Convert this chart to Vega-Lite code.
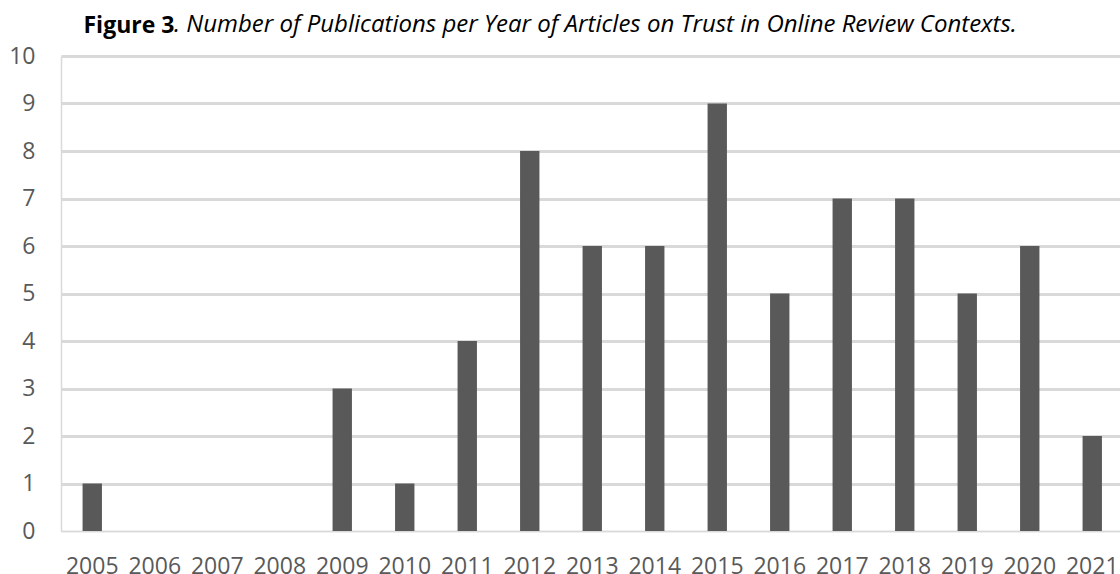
{
  "$schema": "https://vega.github.io/schema/vega-lite/v6.json",
  "width": 1062.5,
  "height": 475,
  "autosize": {"type": "none"},
  "padding": {"left": 61, "top": 56, "right": 0, "bottom": 43},
  "background": "#ffffff",
  "config": {
    "font": "Open Sans",
    "view": {"stroke": null}
  },
  "title": {
    "text": ". Number of Publications per Year of Articles on Trust in Online Review Contexts.",
    "anchor": "start",
    "frame": "group",
    "dx": 113,
    "offset": -42,
    "baseline": "alphabetic",
    "font": "Open Sans",
    "fontSize": 24,
    "fontStyle": "italic",
    "fontWeight": "normal",
    "color": "#000000"
  },
  "data": {
    "values": [
      {"year": "2005", "count": 1},
      {"year": "2006", "count": 0},
      {"year": "2007", "count": 0},
      {"year": "2008", "count": 0},
      {"year": "2009", "count": 3},
      {"year": "2010", "count": 1},
      {"year": "2011", "count": 4},
      {"year": "2012", "count": 8},
      {"year": "2013", "count": 6},
      {"year": "2014", "count": 6},
      {"year": "2015", "count": 9},
      {"year": "2016", "count": 5},
      {"year": "2017", "count": 7},
      {"year": "2018", "count": 7},
      {"year": "2019", "count": 5},
      {"year": "2020", "count": 6},
      {"year": "2021", "count": 2}
    ]
  },
  "mark": {"type": "bar", "color": "#595959"},
  "encoding": {
    "x": {
      "field": "year",
      "type": "ordinal",
      "sort": null,
      "scale": {"paddingInner": 0.69, "paddingOuter": 0.345},
      "axis": {
        "title": null,
        "labelAngle": 0,
        "labelFontSize": 23,
        "labelColor": "#595959",
        "labelFont": "Open Sans",
        "labelBaseline": "alphabetic",
        "labelPadding": 42,
        "ticks": false,
        "domain": true,
        "domainColor": "#d9d9d9",
        "domainWidth": 1.5,
        "grid": false
      }
    },
    "y": {
      "field": "count",
      "type": "quantitative",
      "scale": {"domain": [0, 10], "nice": false},
      "axis": {
        "title": "Figure 3",
        "titleAngle": 0,
        "titleAlign": "left",
        "titleBaseline": "alphabetic",
        "titleX": 22,
        "titleY": -24,
        "titleFont": "Open Sans",
        "titleFontSize": 23,
        "titleFontWeight": "bold",
        "titleColor": "#000000",
        "values": [0, 1, 2, 3, 4, 5, 6, 7, 8, 9, 10],
        "labelFontSize": 23,
        "labelColor": "#595959",
        "labelFont": "Open Sans",
        "labelPadding": 26,
        "ticks": false,
        "domain": true,
        "domainColor": "#d9d9d9",
        "domainWidth": 1.5,
        "grid": true,
        "gridColor": "#d9d9d9",
        "gridWidth": {"condition": {"test": "datum.value === 0", "value": 1.5}, "value": 3}
      }
    }
  }
}
